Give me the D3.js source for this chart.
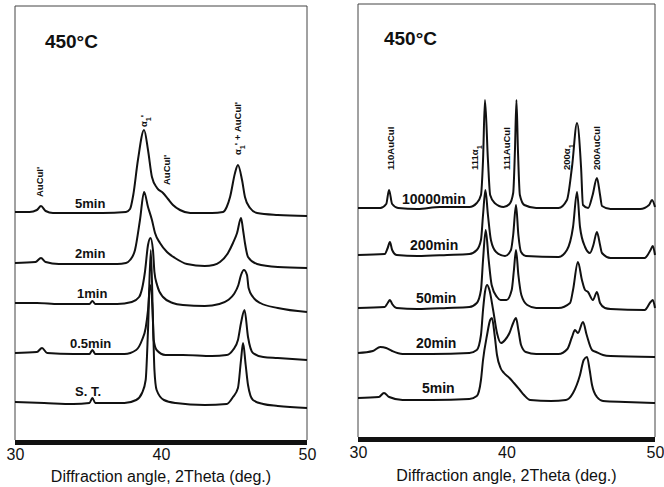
<!DOCTYPE html>
<html lang="en">
<head>
<meta charset="UTF-8">
<title>XRD 450C</title>
<script src="https://d3js.org/d3.v7.min.js"></script>
<style>
  body { margin: 0; background: #fff; }
  text { font-family: "Liberation Sans", Arial, sans-serif; fill: #111; }
  .trace { fill: none; stroke: #111; stroke-width: 2; stroke-linejoin: round; }
  .frame { fill: none; stroke: #444; stroke-width: 1; }
  .bar { fill: #111; }
  .tick text { font-size: 16px; font-family: "Liberation Sans", Arial, sans-serif; fill: #111; }
  .xtitle { font-size: 16px; }
  .temp { font-size: 19px; font-weight: bold; }
  .cname { font-weight: bold; }
  .peak { font-size: 9.5px; font-weight: bold; }
</style>
</head>
<body>
<script>
// x ticks (2Theta, deg)
var xTicks = [30, 40, 50];
var tempLabel = "450°C";
var xTitle = "Diffraction angle, 2Theta (deg.)";

// left panel: curve names top to bottom
var leftNames = ["5min", "2min", "1min", "0.5min", "S. T."];
// [2theta, intensity a.u.]
var left5min = [[30,228],[31,228],[31.5,230],[31.78,234],[32.1,229],[32.6,227],[34,227],[36,227],[37.6,228],[37.88,231],[38.1,245],[38.42,280],[38.84,310],[39.11,290],[39.38,263],[39.73,252],[40.14,247],[40.48,241],[40.82,235],[41.3,230],[42,227],[43.5,227],[44.25,228],[44.5,233],[44.73,243],[45.07,267],[45.27,275],[45.55,260],[45.75,243],[46.1,232],[46.58,227],[48,225],[50,224]];
var left2min = [[30,177],[31.4,178],[31.78,182],[32.1,178],[33,176],[35,176],[37,176],[37.6,177],[37.88,180],[38.22,190],[38.56,220],[38.84,248],[39.11,233],[39.38,220],[39.59,207],[39.93,197],[40.41,188],[40.96,182],[41.78,176],[43,174],[43.6,175],[44.04,178],[44.59,187],[44.93,197],[45.21,207],[45.48,222],[45.62,210],[45.75,197],[45.96,183],[46.58,176],[48,173],[50,172]];
var left1min = [[30,137],[31.5,137],[33,136],[35.1,136],[35.3,139],[35.5,136],[37,136],[38,138],[38.5,143],[38.9,168],[39.11,195],[39.28,202],[39.45,190],[39.55,168],[39.73,155],[40.14,143],[40.8,137],[41.5,135],[43,134],[44,136],[44.6,140],[45,146],[45.3,155],[45.48,165],[45.68,170],[45.89,165],[46,152],[46.3,143],[46.8,137],[48,132],[50,128]];
var left05min = [[30,87],[31.5,88],[31.85,92],[32.2,87],[34,86],[35.1,86],[35.3,90],[35.5,86],[37.5,86],[38.3,90],[38.7,100],[38.95,112],[39.11,130],[39.25,155],[39.42,130],[39.5,100],[39.7,90],[40.3,85],[41.5,85],[43.5,84],[44.5,85],[44.93,90],[45.27,100],[45.48,117],[45.72,130],[45.96,103],[46.3,87],[47,83],[48,82],[50,80]];
var leftST = [[30,38],[32,37],[34,36],[35.1,37],[35.3,42],[35.5,37],[37.5,37],[38.3,40],[38.7,47],[38.95,60],[39.11,110],[39.3,190],[39.45,120],[39.55,70],[39.7,50],[40.2,40],[41,37],[43,35],[44.5,36],[44.93,43],[45.27,52],[45.48,80],[45.62,97],[45.8,75],[45.96,55],[46.3,40],[47,36],[48,34],[50,32]];

// right panel
var rightNames = ["10000min", "200min", "50min", "20min", "5min"];
var right10000min = [[30,229],[31.5,229],[31.9,233],[32.09,247],[32.3,233],[32.7,229],[34,228],[35.5,230],[37.5,230],[38,234],[38.28,242],[38.42,277],[38.55,337],[38.75,277],[38.9,242],[39.2,234],[39.8,230],[40.2,233],[40.45,244],[40.57,287],[40.67,337],[40.77,287],[40.9,242],[41.2,232],[42,229],[43.5,229],[44.07,237],[44.41,270],[44.75,314],[45.02,270],[45.15,232],[45.5,229],[45.8,242],[46.09,259],[46.3,242],[46.43,231],[47,228],[49,228],[49.6,232],[49.8,237],[50,230]];
var right200min = [[30,182],[31.8,183],[32,189],[32.15,195],[32.3,187],[32.6,182],[34,181],[36,182],[37.5,183],[38,187],[38.28,197],[38.42,222],[38.58,247],[38.75,222],[38.95,197],[39.3,185],[39.9,181],[40.3,187],[40.45,202],[40.64,232],[40.8,202],[40.98,185],[41.3,181],[43.5,180],[44.07,187],[44.48,210],[44.75,245],[44.95,210],[45.29,190],[45.62,184],[45.85,192],[46.09,205],[46.3,192],[46.43,184],[47,179],[49.3,179],[49.7,187],[49.85,191],[50,182]];
var right50min = [[30,129],[31.8,130],[32,134],[32.15,137],[32.3,133],[32.6,129],[34,128],[36,129],[37.5,130],[38,134],[38.28,147],[38.42,177],[38.6,207],[38.8,177],[39,152],[39.36,140],[39.6,137],[40,137],[40.35,147],[40.5,167],[40.64,187],[40.8,162],[41,142],[41.4,132],[42,129],[43.5,129],[44.28,134],[44.48,147],[44.81,175],[45.08,157],[45.29,147],[45.49,145],[45.82,137],[46.09,145],[46.3,134],[46.63,129],[47,128],[49.3,127],[49.7,135],[49.85,137],[50,129]];
var right20min = [[30,84],[31,86],[31.5,90],[31.9,89],[32.3,86],[33,83],[35,83],[37.5,84],[38,87],[38.28,102],[38.42,127],[38.55,145],[38.69,152],[38.85,147],[39.1,127],[39.36,104],[39.63,94],[39.9,97],[40.2,104],[40.45,114],[40.64,119],[40.8,107],[40.98,92],[41.3,85],[42,83],[43.5,83],[44.1,88],[44.41,100],[44.61,107],[44.81,104],[45.15,115],[45.4,102],[45.76,87],[46.03,85],[46.5,82],[47,81],[50,80]];
var right5min = [[30,39],[31.4,40],[31.75,44],[32.1,40],[33,37],[35,37],[37.5,38],[38,41],[38.28,57],[38.42,77],[38.69,102],[38.9,117],[39.02,119],[39.2,102],[39.36,82],[39.6,69],[39.83,64],[40.2,59],[40.5,54],[40.9,47],[41.18,42],[41.6,37],[43,36],[44,37],[44.48,44],[44.95,62],[45.2,77],[45.42,80],[45.6,67],[45.76,52],[46.09,40],[46.5,36],[48,35],[50,34]];

// peak labels: text ("_" = next char subscript), 2theta, intensity at label foot
var leftPeaks = [["AuCuI'", 31.71, 243], ["α_1'", 38.84, 313], ["AuCuI'", 40.41, 255], ["α_1' + AuCuI'", 45.27, 285]];
var rightPeaks = [["110AuCuI", 32.22, 267], ["111α_1", 37.88, 267], ["111AuCuI", 40.03, 267], ["200α_1", 44.07, 267], ["200AuCuI", 46.09, 267]];

// curve name anchors: 2theta, intensity
var leftNamePos = [[34.11, 232], [34.11, 182], [34.25, 142], [33.77, 92], [34.11, 44]];
var rightNamePos = [[32.96, 233], [33.5, 187], [33.9, 134], [33.9, 89], [34.31, 44]];

var W = 664, H = 487;
var svg = d3.select("body").append("svg")
    .attr("width", W)
    .attr("height", H);

var panels = [
    { x0: 15, x1: 307, top: 6, barTop: 440, yMax: 434, tempAt: [32.05, 392], nameSize: 13,
      traces: [left5min, left2min, left1min, left05min, leftST], names: leftNames, namePos: leftNamePos, peaks: leftPeaks,
      tickPad: 4, titleY: 482 },
    { x0: 358, x1: 655, top: 4, barTop: 437, yMax: 433, tempAt: [31.75, 392], nameSize: 14,
      traces: [right10000min, right200min, right50min, right20min, right5min], names: rightNames, namePos: rightNamePos, peaks: rightPeaks,
      tickPad: 5, titleY: 481 }
];

function addRich(sel, str) {
    // split "α_1'" into normal / subscript pieces
    var parts = str.split("_");
    sel.append("tspan").text(parts[0]);
    for (var i = 1; i < parts.length; i++) {
        sel.append("tspan").attr("baseline-shift", "sub").attr("font-size", "0.75em").text(parts[i].charAt(0));
        sel.append("tspan").text(parts[i].slice(1));
    }
}

panels.forEach(function(p) {
    var x = d3.scaleLinear().domain([30, 50]).range([p.x0, p.x1]);
    var y = d3.scaleLinear().domain([0, p.yMax]).range([p.barTop, p.top]);
    var g = svg.append("g");

    // frame
    g.append("path")
        .attr("class", "frame")
        .attr("d", "M" + p.x0 + "," + p.barTop + "V" + p.top + "H" + p.x1 + "V" + p.barTop);

    // thick bottom bar
    g.append("rect")
        .attr("class", "bar")
        .attr("x", p.x0)
        .attr("y", p.barTop)
        .attr("width", p.x1 - p.x0)
        .attr("height", 5);

    var xAxis = d3.axisBottom(x).tickValues(xTicks).tickSize(0).tickPadding(p.tickPad);
    var ax = g.append("g")
        .attr("transform", "translate(0," + (p.barTop + 5) + ")")
        .call(xAxis);
    ax.select(".domain").remove();

    g.append("text")
        .attr("class", "xtitle")
        .attr("x", (p.x0 + p.x1) / 2)
        .attr("y", p.titleY)
        .attr("text-anchor", "middle")
        .text(xTitle);

    var line = d3.line()
        .x(function(d) { return x(d[0]); })
        .y(function(d) { return y(d[1]); })
        .curve(d3.curveMonotoneX);

    g.selectAll(".trace")
        .data(p.traces)
        .enter()
        .append("path")
        .attr("class", "trace")
        .attr("d", line);

    g.selectAll(".cname")
        .data(p.names)
        .enter()
        .append("text")
        .attr("class", "cname")
        .attr("font-size", p.nameSize)
        .attr("x", function(d, i) { return x(p.namePos[i][0]); })
        .attr("y", function(d, i) { return y(p.namePos[i][1]); })
        .text(function(d) { return d; });

    g.append("text")
        .attr("class", "temp")
        .attr("x", x(p.tempAt[0]))
        .attr("y", y(p.tempAt[1]))
        .text(tempLabel);

    p.peaks.forEach(function(pk) {
        var t = g.append("text")
            .attr("class", "peak")
            .attr("transform", "translate(" + x(pk[1]) + "," + y(pk[2]) + ") rotate(-90)")
            .attr("dy", "0.35em");
        addRich(t, pk[0]);
    });
});
</script>
</body>
</html>
